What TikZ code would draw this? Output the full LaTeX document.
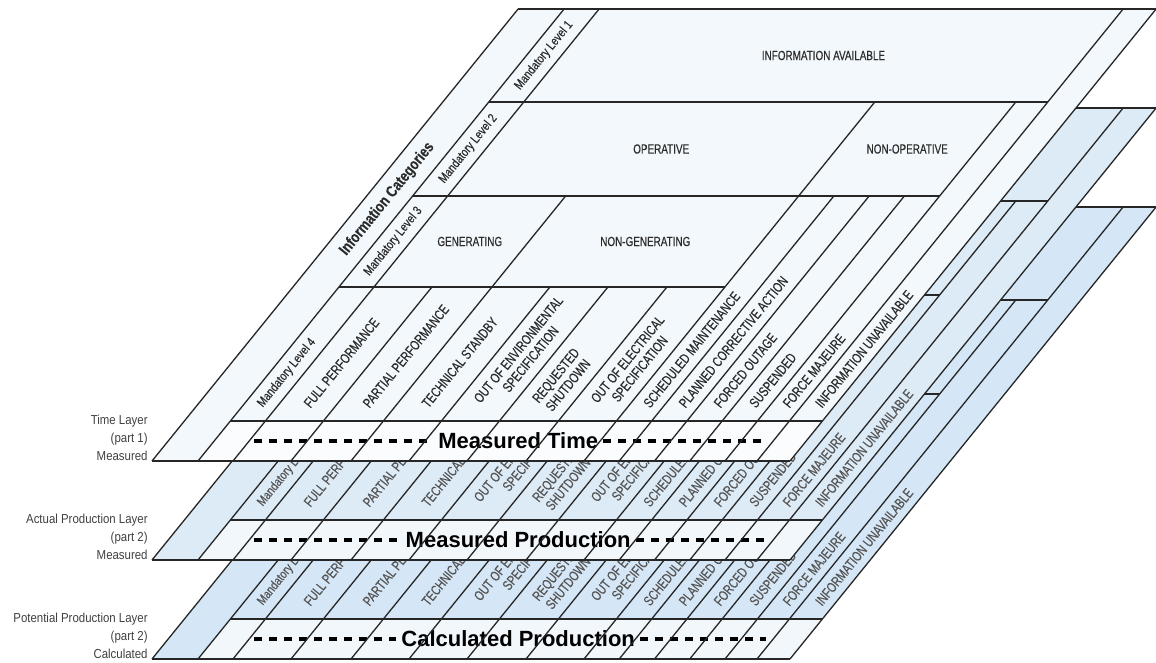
\documentclass[tikz,border=0pt]{standalone}
\usepackage{fontspec}
\setmainfont{Liberation Sans}
\newfontfamily\condfont[FakeStretch=0.75, FakeBold=0.35]{Liberation Sans}
\newfontfamily\mandfont[FakeStretch=0.8, FakeBold=0.25]{Liberation Sans}
\newfontfamily\sidefont[FakeStretch=0.88]{Liberation Sans}

\definecolor{lay1}{HTML}{F3F8FC}
\definecolor{lay2}{HTML}{DDEBF7}
\definecolor{lay3}{HTML}{D5E7F6}
\definecolor{strip1}{HTML}{FAFCFE}
\definecolor{strip2}{HTML}{F2F7FC}
\definecolor{rulec}{HTML}{262626}
\definecolor{txt1}{HTML}{2B2B2B}
\definecolor{txt2}{HTML}{555555}
\definecolor{sidec}{HTML}{404040}

\begin{document}
\begin{tikzpicture}[x=0.5pt, y=0.5pt,
    rule/.style={draw=rulec, line width=0.65pt},
    hrule/.style={draw=rulec, line width=0.95pt},
    cat/.style={rotate=51, anchor=west, inner sep=0pt, align=center, font=\condfont\fontsize{7}{7.8}\selectfont},
    head/.style={inner sep=0pt, font=\condfont\fontsize{6.6}{8}\selectfont},
    mand/.style={rotate=51, inner sep=0pt, font=\mandfont\fontsize{6.4}{7.5}\selectfont},
    infocat/.style={rotate=51, inner sep=0pt, font=\mandfont\bfseries\fontsize{8}{9}\selectfont},
    big/.style={inner sep=2.5pt, font=\bfseries\fontsize{11}{13}\selectfont},
    dashrule/.style={line width=1.7pt, dash pattern=on 4pt off 3.5pt},
    side/.style={anchor=south east, inner sep=0pt, align=right, text=sidec, font=\sidefont\fontsize{6.5}{9}\selectfont}
  ]
  \useasboundingbox (0,0) rectangle (1156,663);

  \foreach \k/\yb/\bg/\sc/\tc/\striptxt/\sidetxt in {
      3/4/lay3/strip2/txt2/Calculated Production/{Potential Production Layer\\(part 2)\\Calculated},
      2/103/lay2/strip2/txt2/Measured Production/{Actual Production Layer\\(part 2)\\Measured},
      1/202/lay1/strip1/txt1/Measured Time/{Time Layer\\(part 1)\\Measured}}{
    \node[side] (side\k) at (148,\yb) {\sidetxt};
    \begin{scope}[shift={(152,\yb)}, xslant=0.81]
      \fill[\bg] (0,0) -- (638,0) -- (638,452) -- (0,452) -- cycle;
      \fill[\sc] (46,0) -- (638,0) -- (638,40) -- (46,40) -- cycle;

      % upper rows only show on the top layer
      \ifnum\k=1
        \node[head, text=\tc] (ia\k) at (343,405.5) {INFORMATION AVAILABLE};
        \node[head, text=\tc] (op\k) at (256.5,312) {OPERATIVE};
        \node[head, text=\tc] (nop\k) at (502.5,312) {NON-OPERATIVE};
        \node[head, text=\tc] (gen\k) at (140,219.5) {GENERATING};
        \node[head, text=\tc] (ngen\k) at (315.5,219.5) {NON-GENERATING};
        \node[infocat, text=\tc] (icat\k) at (23,262) {Information Categories};
        \node[mand, text=\tc] (ml1\k) at (63.5,405.5) {Mandatory Level 1};
        \node[mand, text=\tc] (ml2\k) at (63.5,312) {Mandatory Level 2};
        \node[mand, text=\tc] (ml3\k) at (63.5,219.5) {Mandatory Level 3};
      \fi
      \node[mand, anchor=west, text=\tc] (ml4\k) at (63.5,55) {Mandatory Level 4};

      \foreach \u/\txt [count=\i] in {110/FULL PERFORMANCE, 169/PARTIAL PERFORMANCE,
          228/TECHNICAL STANDBY, 286/{OUT OF ENVIRONMENTAL\\SPECIFICATION},
          344.5/{REQUESTED\\SHUTDOWN}, 403/{OUT OF ELECTRICAL\\SPECIFICATION},
          449.6/SCHEDULED MAINTENANCE, 485/PLANNED CORRECTIVE ACTION,
          520/FORCED OUTAGE, 555.4/SUSPENDED, 589/FORCE MAJEURE,
          621.5/INFORMATION UNAVAILABLE}
        \node[cat, text=\tc] (c\k-\i) at (\u,55) {\txt};

      \node[big] (strip\k) at (350,20) {\striptxt};
      \coordinate (dl\k) at (86,20);
      \coordinate (dr\k) at (598,20);
      \draw[dashrule] (dl\k) -- (strip\k.west);
      \draw[dashrule] (strip\k.east) -- (dr\k);

      \foreach \u/\top in {46/452, 81/452, 139/174, 199/265, 257/174, 315/174, 374/174,
          432/359, 467.25/265, 502.5/265, 537.75/265, 573/359, 605/452}
        \draw[rule] (\u,0) -- (\u,\top);
      \foreach \u/\v in {638/40, 432/174, 573/265, 605/359}
        \draw[hrule] (46,\v) -- (\u,\v);
      \draw[hrule] (0,0) -- (638,0) (0,452) -- (638,452);
      \draw[rule] (0,0) -- (0,452) (638,0) -- (638,452);
    \end{scope}
  }
\end{tikzpicture}
\end{document}
